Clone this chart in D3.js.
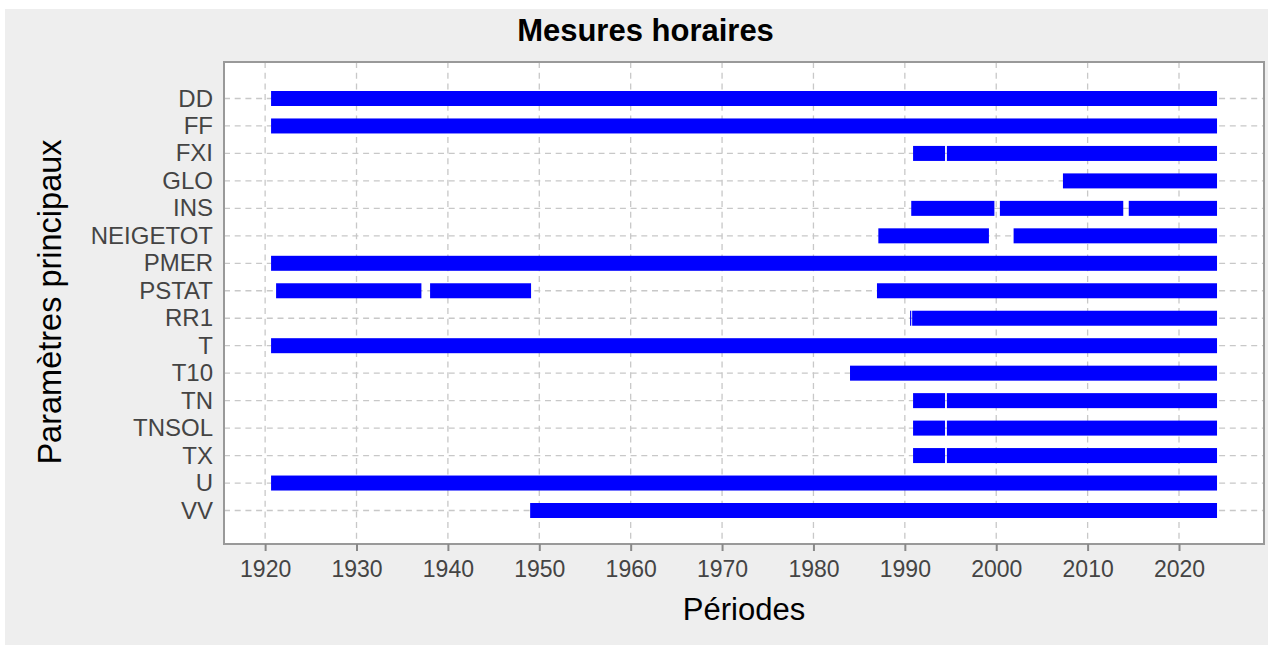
<!DOCTYPE html>
<html>
<head>
<meta charset="utf-8">
<script src="https://cdn.jsdelivr.net/npm/d3@7"></script>
<style>
    body { margin: 0; background: #fff; }
    svg { display: block; font-family: "Liberation Sans", Arial, sans-serif; }
</style>
</head>
<body>
<div id="chart"></div>
<script>
// Parameters shown on the y axis, top to bottom
const categories = ['DD', 'FF', 'FXI', 'GLO', 'INS', 'NEIGETOT', 'PMER', 'PSTAT',
    'RR1', 'T', 'T10', 'TN', 'TNSOL', 'TX', 'U', 'VV'];

// Measurement periods: [parameter, start year, end year] (decimal years)
const periods = [
    ['DD', 1920.65, 2024.16],
    ['FF', 1920.65, 2024.16],
    ['FXI', 1990.9, 1994.4], ['FXI', 1994.6, 2024.16],
    ['GLO', 2007.3, 2024.16],
    ['INS', 1990.7, 1999.8], ['INS', 2000.4, 2013.9], ['INS', 2014.5, 2024.16],
    ['NEIGETOT', 1987.1, 1999.2], ['NEIGETOT', 2001.9, 2024.16],
    ['PMER', 1920.65, 2024.16],
    ['PSTAT', 1921.2, 1937.1], ['PSTAT', 1938.05, 1949.1], ['PSTAT', 1986.95, 2024.16],
    ['RR1', 1990.57, 1990.7], ['RR1', 1990.8, 2024.16],
    ['T', 1920.65, 2024.16],
    ['T10', 1984.0, 2024.16],
    ['TN', 1990.9, 1994.4], ['TN', 1994.6, 2024.16],
    ['TNSOL', 1990.9, 1994.4], ['TNSOL', 1994.6, 2024.16],
    ['TX', 1990.9, 1994.4], ['TX', 1994.6, 2024.16],
    ['U', 1920.65, 2024.16],
    ['VV', 1949.0, 2024.16]
];

const yearTicks = [1920, 1930, 1940, 1950, 1960, 1970, 1980, 1990, 2000, 2010, 2020];
const yearDomain = [1915.5, 2029.3];

const width = 1273, height = 646;
const plot = { left: 224, right: 1264, top: 62, bottom: 544 };
const barH = 15;

const svg = d3.select('#chart').append('svg')
    .attr('width', width)
    .attr('height', height);

// chart background
svg.append('rect')
    .attr('x', 5).attr('y', 9)
    .attr('width', 1263).attr('height', 636)
    .attr('fill', '#eeeeee');

const x = d3.scaleLinear().domain(yearDomain).range([plot.left, plot.right]);
const y = d3.scalePoint().domain(categories).range([98.5, 510.5]);

// plot background
svg.append('rect')
    .attr('x', plot.left).attr('y', plot.top)
    .attr('width', plot.right - plot.left)
    .attr('height', plot.bottom - plot.top)
    .attr('fill', '#fff');

// grid
const grid = svg.append('g')
    .attr('stroke', '#c8c8c8')
    .attr('stroke-width', 1.3)
    .attr('stroke-dasharray', '6,4.7');

grid.selectAll('line.v').data(yearTicks).enter().append('line')
    .attr('class', 'v')
    .attr('x1', d => x(d)).attr('x2', d => x(d))
    .attr('y1', plot.top).attr('y2', plot.bottom);

grid.selectAll('line.h').data(categories).enter().append('line')
    .attr('class', 'h')
    .attr('x1', plot.left).attr('x2', plot.right)
    .attr('y1', d => y(d)).attr('y2', d => y(d));

// bars
svg.append('g').selectAll('rect').data(periods).enter().append('rect')
    .attr('x', d => x(d[1]))
    .attr('width', d => x(d[2]) - x(d[1]))
    .attr('y', d => y(d[0]) - barH / 2)
    .attr('height', barH)
    .attr('fill', '#0000ff');

// plot outline
svg.append('rect')
    .attr('x', plot.left).attr('y', plot.top)
    .attr('width', plot.right - plot.left)
    .attr('height', plot.bottom - plot.top)
    .attr('fill', 'none')
    .attr('stroke', '#999')
    .attr('stroke-width', 2);

// x axis
const xAxis = svg.append('g')
    .attr('transform', `translate(0, ${plot.bottom})`)
    .call(d3.axisBottom(x).tickValues(yearTicks).tickFormat(d3.format('d'))
        .tickSize(7).tickPadding(10));
xAxis.select('.domain').remove();
xAxis.selectAll('.tick line').attr('stroke', '#888').attr('stroke-width', 2);
xAxis.selectAll('.tick text')
    .attr('fill', '#444')
    .attr('font-size', 23)
    .attr('font-family', '"Liberation Sans", Arial, sans-serif');

// y labels
svg.append('g').selectAll('text').data(categories).enter().append('text')
    .attr('x', 213)
    .attr('y', d => y(d) + 8)
    .attr('text-anchor', 'end')
    .attr('fill', '#444')
    .attr('font-size', 24)
    .text(d => d);

// title
svg.append('text')
    .attr('x', 645.5).attr('y', 41)
    .attr('text-anchor', 'middle')
    .attr('font-size', 31)
    .attr('font-weight', 'bold')
    .attr('fill', '#000')
    .text('Mesures horaires');

// axis titles
svg.append('text')
    .attr('x', (plot.left + plot.right) / 2).attr('y', 620)
    .attr('text-anchor', 'middle')
    .attr('font-size', 31)
    .attr('fill', '#000')
    .text('Périodes');

svg.append('text')
    .attr('transform', 'translate(61, 302) rotate(-90)')
    .attr('text-anchor', 'middle')
    .attr('font-size', 32.5)
    .attr('fill', '#000')
    .text('Paramètres principaux');
</script>
</body>
</html>
